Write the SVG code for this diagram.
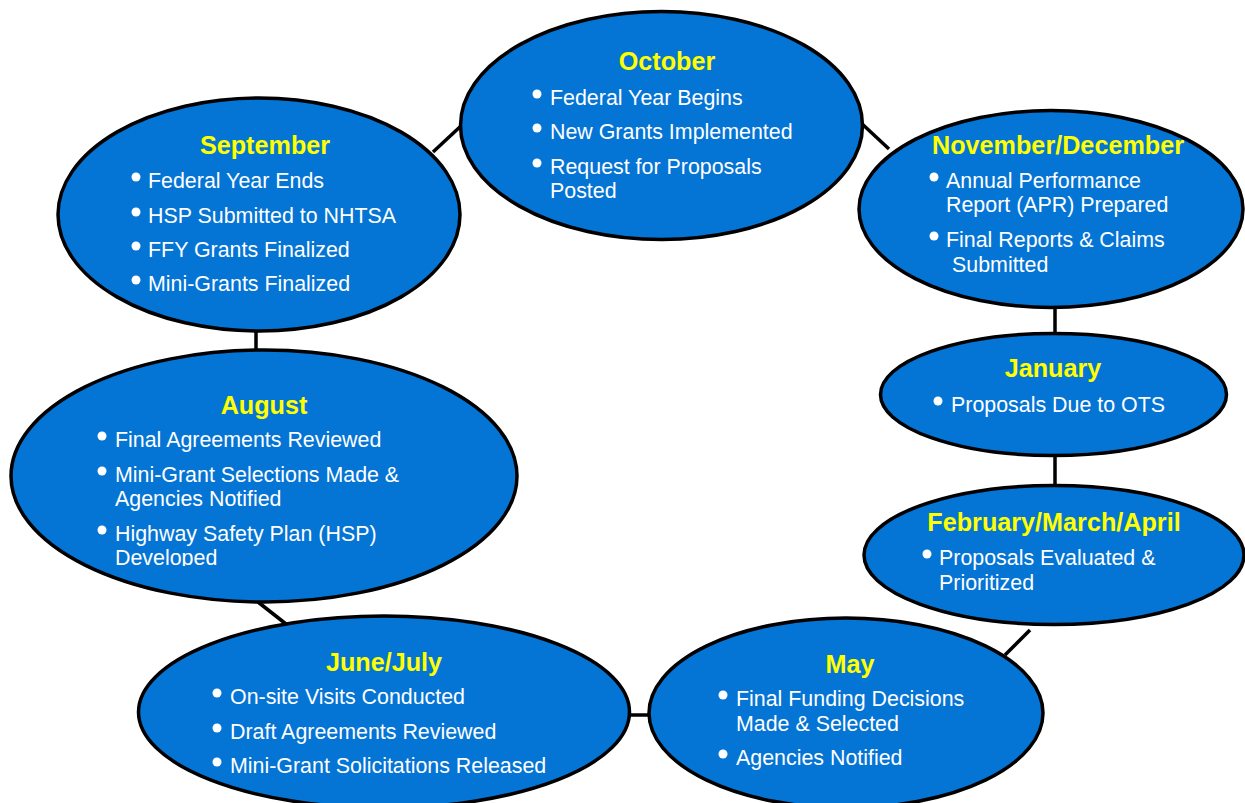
<svg xmlns="http://www.w3.org/2000/svg" width="1245" height="803" viewBox="0 0 1245 803">
<style>
.node{fill:#0474D5;stroke:#000;stroke-width:3.5}
.t{font-family:"Liberation Sans",Arial,sans-serif;font-weight:bold;font-size:25.2px;fill:#FFFF00;text-anchor:middle}
.b{font-family:"Liberation Sans",Arial,sans-serif;font-size:21.4px;fill:#FFFFFF}
.d{fill:#FFFFFF}
.c line{stroke:#000;stroke-width:3.5}
</style>
<defs>
<clipPath id="augclip"><rect x="0" y="0" width="600" height="566"/></clipPath>
</defs>
<rect width="1245" height="803" fill="#FFFFFF"/>
<g class="c" id="connectors">
<line x1="433" y1="152" x2="462" y2="125"/>
<line x1="860" y1="122" x2="889" y2="149"/>
<line x1="1055" y1="306" x2="1055" y2="335"/>
<line x1="1055" y1="454" x2="1055" y2="487"/>
<line x1="1030" y1="630" x2="1005" y2="655"/>
<line x1="628" y1="715" x2="650" y2="715"/>
<line x1="258" y1="602" x2="286" y2="624"/>
<line x1="256" y1="330" x2="256" y2="352"/>
</g>
<g id="october">
<ellipse class="node" cx="661.5" cy="125.5" rx="201" ry="114"/>
<text class="t" x="667" y="70">October</text>
<circle class="d" cx="537" cy="94" r="4.5"/><text class="b" x="550" y="105">Federal Year Begins</text>
<circle class="d" cx="537" cy="128" r="4.5"/><text class="b" x="550" y="139">New Grants Implemented</text>
<circle class="d" cx="537" cy="163" r="4.5"/><text class="b" x="550" y="174">Request for Proposals</text>
<text class="b" x="550" y="198">Posted</text>
</g>
<g id="september">
<ellipse class="node" cx="259" cy="214.5" rx="201" ry="116.5"/>
<text class="t" x="265" y="154">September</text>
<circle class="d" cx="136" cy="177" r="4.5"/><text class="b" x="148" y="188">Federal Year Ends</text>
<circle class="d" cx="136" cy="212" r="4.5"/><text class="b" x="148" y="223">HSP Submitted to NHTSA</text>
<circle class="d" cx="136" cy="246" r="4.5"/><text class="b" x="148" y="257">FFY Grants Finalized</text>
<circle class="d" cx="136" cy="280" r="4.5"/><text class="b" x="148" y="291">Mini-Grants Finalized</text>
</g>
<g id="novdec">
<ellipse class="node" cx="1051" cy="209" rx="192" ry="98.5"/>
<text class="t" x="1058" y="154">November/December</text>
<circle class="d" cx="934" cy="177" r="4.5"/><text class="b" x="946" y="188">Annual Performance</text>
<text class="b" x="946" y="212">Report (APR) Prepared</text>
<circle class="d" cx="934" cy="236" r="4.5"/><text class="b" x="946" y="247">Final Reports &amp; Claims</text>
<text class="b" x="952" y="272">Submitted</text>
</g>
<g id="january">
<ellipse class="node" cx="1053.5" cy="394.5" rx="173" ry="61"/>
<text class="t" x="1053" y="377">January</text>
<circle class="d" cx="938" cy="401" r="4.5"/><text class="b" x="951" y="412">Proposals Due to OTS</text>
</g>
<g id="febmarapr">
<ellipse class="node" cx="1054" cy="555" rx="190" ry="69.5"/>
<text class="t" x="1054" y="531">February/March/April</text>
<circle class="d" cx="927" cy="554" r="4.5"/><text class="b" x="939" y="565">Proposals Evaluated &amp;</text>
<text class="b" x="939" y="590">Prioritized</text>
</g>
<g id="may">
<ellipse class="node" cx="846" cy="713" rx="197" ry="95"/>
<text class="t" x="850" y="673">May</text>
<circle class="d" cx="723" cy="695" r="4.5"/><text class="b" x="736" y="706">Final Funding Decisions</text>
<text class="b" x="736" y="731">Made &amp; Selected</text>
<circle class="d" cx="723" cy="754" r="4.5"/><text class="b" x="736" y="765">Agencies Notified</text>
</g>
<g id="junejuly">
<ellipse class="node" cx="384" cy="712" rx="245.5" ry="96"/>
<text class="t" x="384" y="671">June/July</text>
<circle class="d" cx="217" cy="693" r="4.5"/><text class="b" x="230" y="704">On-site Visits Conducted</text>
<circle class="d" cx="217" cy="728" r="4.5"/><text class="b" x="230" y="739">Draft Agreements Reviewed</text>
<circle class="d" cx="217" cy="762" r="4.5"/><text class="b" x="230" y="773">Mini-Grant Solicitations Released</text>
</g>
<g id="august">
<ellipse class="node" cx="264" cy="476" rx="253" ry="126"/>
<text class="t" x="264" y="414">August</text>
<g clip-path="url(#augclip)">
<circle class="d" cx="102" cy="436" r="4.5"/><text class="b" x="115" y="447">Final Agreements Reviewed</text>
<circle class="d" cx="102" cy="471" r="4.5"/><text class="b" x="115" y="482">Mini-Grant Selections Made &amp;</text>
<text class="b" x="115" y="506">Agencies Notified</text>
<circle class="d" cx="102" cy="530" r="4.5"/><text class="b" x="115" y="541">Highway Safety Plan (HSP)</text>
<text class="b" x="115" y="565">Developed</text>
</g>
</g>
</svg>
